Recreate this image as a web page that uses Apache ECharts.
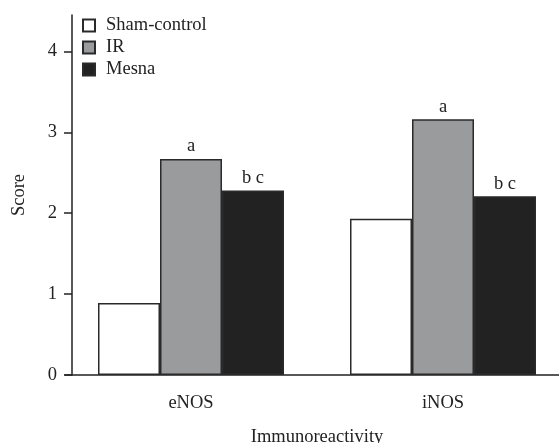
<!DOCTYPE html>
<html>
<head>
<meta charset="utf-8">
<script src="https://cdn.jsdelivr.net/npm/echarts@6/dist/echarts.min.js"></script>
<style>
  html, body { margin: 0; padding: 0; background: #fff; }
  #chart { width: 559px; height: 443px; }
</style>
</head>
<body>
<div id="chart"></div>
<script>
// values
const categories = ['eNOS', 'iNOS']
const seriesNames = ['Sham-control', 'IR', 'Mesna']
const shamValues = [0.89, 1.93]
const irValues = [2.67, 3.16]
const mesnaValues = [2.28, 2.21]
const irMarks = ['a', 'a']
const mesnaMarks = ['b c', 'b c']
const yTicks = [0, 1, 2, 3, 4]

const font = 'Liberation Serif'
const fontSize = 18.5
const ink = '#222'

function barSeries(name, values, fill, marks) {
  return {
    name,
    type: 'bar',
    data: values,
    barWidth: 62,
    barGap: '0%',
    itemStyle: { color: fill, borderColor: '#2a2a2a', borderWidth: 1.5 },
    label: {
      show: !!marks,
      position: 'top',
      distance: 3,
      color: ink,
      fontFamily: font,
      fontSize,
      formatter: (p) => (marks ? marks[p.dataIndex] : ''),
    },
    emphasis: { disabled: true },
  }
}

const chart = echarts.init(document.getElementById('chart'), null, { renderer: 'canvas' })
chart.setOption({
  animation: false,
  backgroundColor: '#fff',
  textStyle: { fontFamily: font },
  grid: { left: 65, right: -10, top: 15, bottom: 68, outerBoundsMode: 'none', containLabel: false },
  legend: {
    data: seriesNames,
    orient: 'vertical',
    left: 77,
    top: 11,
    itemWidth: 12,
    itemHeight: 12,
    itemGap: 3,
    icon: 'rect',
    textStyle: { fontFamily: font, fontSize, color: ink, padding: [0, 0, 0, 6] },
  },
  xAxis: {
    type: 'category',
    data: categories,
    name: 'Immunoreactivity',
    nameLocation: 'middle',
    nameGap: 53,
    nameTextStyle: { fontFamily: font, fontSize, color: ink },
    axisLine: { lineStyle: { color: ink, width: 1.5 } },
    axisTick: { alignWithLabel: true, length: 8, lineStyle: { color: ink, width: 1.5 } },
    axisLabel: { fontFamily: font, fontSize, color: ink, margin: 19 },
  },
  yAxis: {
    type: 'value',
    min: yTicks[0],
    max: 4.45,
    interval: 1,
    offset: -7,
    name: 'Score',
    nameLocation: 'middle',
    nameGap: 43,
    nameTextStyle: { fontFamily: font, fontSize, color: ink },
    axisLine: { show: true, lineStyle: { color: ink, width: 1.5 } },
    axisTick: { show: true, length: 8, lineStyle: { color: ink, width: 1.5 } },
    axisLabel: {
      fontFamily: font, fontSize, color: ink, margin: 15,
      showMaxLabel: false,
      formatter: (v) => (yTicks.includes(v) ? String(v) : ''),
    },
    splitLine: { show: false },
  },
  series: [
    barSeries(seriesNames[0], shamValues, '#ffffff', null),
    barSeries(seriesNames[1], irValues, '#9a9b9d', irMarks),
    barSeries(seriesNames[2], mesnaValues, '#222222', mesnaMarks),
  ],
})
</script>
</body>
</html>
